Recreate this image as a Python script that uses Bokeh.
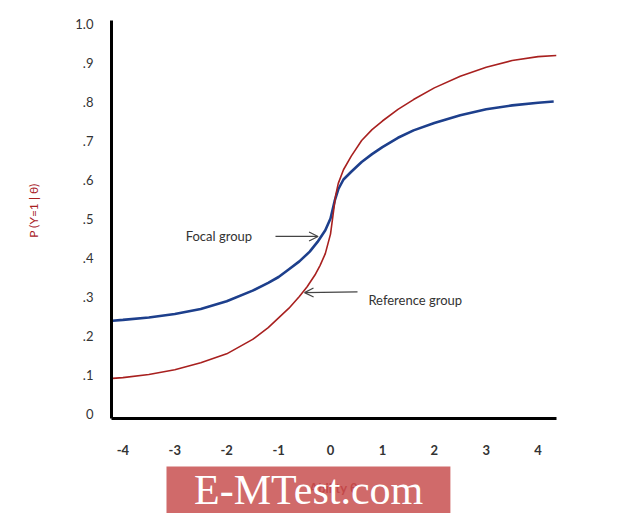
import math
from bokeh.plotting import figure
from bokeh.models import FixedTicker, Label, Arrow, OpenHead, BoxAnnotation, Range1d, LinearAxis
from bokeh.embed import file_html
from bokeh.resources import INLINE

# Data
focal_x = [-4.2, -4, -3.5, -3, -2.5, -2, -1.5, -1.2, -1, -0.8, -0.6, -0.4, -0.25, -0.1, 0, 0.08, 0.15,
           0.25, 0.4, 0.6, 0.8, 1, 1.3, 1.6, 2, 2.5, 3, 3.5, 4, 4.3]
focal_y = [0.238, 0.24, 0.246, 0.255, 0.268, 0.288, 0.315, 0.335, 0.35, 0.37, 0.39, 0.415, 0.44, 0.47, 0.50,
           0.545, 0.575, 0.60, 0.62, 0.645, 0.665, 0.683, 0.707, 0.726, 0.745, 0.765, 0.78, 0.79, 0.797, 0.80]
ref_x = [-4.2, -4, -3.5, -3, -2.5, -2, -1.5, -1.2, -1, -0.8, -0.6, -0.45, -0.3, -0.2, -0.1, 0, 0.05, 0.1,
         0.15, 0.25, 0.4, 0.6, 0.8, 1, 1.3, 1.6, 2, 2.5, 3, 3.5, 4, 4.35]
ref_y = [0.09, 0.092, 0.1, 0.112, 0.13, 0.153, 0.19, 0.22, 0.245, 0.27, 0.30, 0.325, 0.355, 0.38, 0.41, 0.46,
         0.51, 0.56, 0.59, 0.625, 0.66, 0.70, 0.728, 0.75, 0.78, 0.805, 0.835, 0.865, 0.888, 0.905, 0.915, 0.918]
x_ticks = [-4, -3, -2, -1, 0, 1, 2, 3, 4]
x_tick_labels = ["-4", "-3", "-2", "-1", "0", "1", "2", "3", "4"]
y_ticks = [0, 0.1, 0.2, 0.3, 0.4, 0.5, 0.6, 0.7, 0.8, 0.9, 1.0]
y_tick_labels = ["0", ".1", ".2", ".3", ".4", ".5", ".6", ".7", ".8", ".9", "1.0"]

RED = "#a8201f"
BLUE = "#1d3f8c"
FONT = "Lato"

p = figure(width=604, height=513, output_backend="svg", toolbar_location=None,
           x_range=Range1d(-6.358, 5.279), y_range=Range1d(-0.2564, 1.059),
           x_axis_location=None, y_axis_location=None,
           min_border_left=0, min_border_right=0, min_border_top=0, min_border_bottom=0)
p.outline_line_color = None
p.xgrid.visible = False
p.ygrid.visible = False
p.background_fill_color = "white"

p.line(focal_x, focal_y, line_color=BLUE, line_width=2.6)
p.line(ref_x, ref_y, line_color=RED, line_width=1.6)

xaxis = LinearAxis(fixed_location=-0.013, bounds=(-4.22, 4.35))
yaxis = LinearAxis(fixed_location=-4.22, bounds=(-0.013, 1.008))
for ax in (xaxis, yaxis):
    ax.axis_line_width = 3
    ax.axis_line_color = "black"
    ax.major_tick_line_color = None
    ax.minor_tick_line_color = None
    ax.major_label_text_font = FONT
    ax.major_label_text_font_size = "13px"
    ax.major_label_text_font_style = "bold"
    ax.major_label_text_color = "#333333"

xaxis.ticker = FixedTicker(ticks=x_ticks)
xaxis.major_label_overrides = {t: l for t, l in zip(x_ticks, x_tick_labels)}
xaxis.major_label_standoff = 20
yaxis.ticker = FixedTicker(ticks=y_ticks)
yaxis.major_label_overrides = {t: l for t, l in zip(y_ticks, y_tick_labels)}
yaxis.major_label_standoff = 12
yaxis.major_label_text_font_style = "normal"
p.add_layout(xaxis, "below")
p.add_layout(yaxis, "left")

# y axis title
p.add_layout(Label(x=-5.72, y=0.52, text="P (Y=1 | θ)", text_font=FONT, text_font_size="12px",
                   text_color=RED, text_align="center", text_baseline="middle", angle=math.pi / 2))

# annotations
p.add_layout(Label(x=-2.79, y=0.454, text="Focal group", text_font=FONT, text_font_size="13px",
                   text_color="#333333", text_baseline="middle"))
p.add_layout(Arrow(x_start=-1.06, y_start=0.454, x_end=-0.24, y_end=0.454,
                   line_color="#444444", line_width=1.2,
                   end=OpenHead(size=9, line_color="#444444", line_width=1.2)))
p.add_layout(Label(x=0.73, y=0.292, text="Reference group", text_font=FONT, text_font_size="13px",
                   text_color="#333333", text_baseline="middle"))
p.add_layout(Arrow(x_start=0.52, y_start=0.312, x_end=-0.50, y_end=0.31,
                   line_color="#444444", line_width=1.2,
                   end=OpenHead(size=9, line_color="#444444", line_width=1.2)))

# x axis title
p.add_layout(Label(x=0.06, y=-0.19, text="Ability θ", text_font=FONT, text_font_size="13px",
                   text_font_style="bold", text_color=RED, text_align="center", text_baseline="middle"))

# watermark banner
p.add_layout(BoxAnnotation(left=-3.16, right=2.31, top=-0.136, bottom=-0.29,
                           fill_color="#c85050", fill_alpha=0.85, line_color=None))
p.add_layout(Label(x=-0.42, y=-0.197, text="E-MTest.com", text_font="Liberation Serif",
                   text_font_size="42px", text_color="white", text_align="center",
                   text_baseline="middle"))

open("out.html", "w").write(file_html(p, INLINE))
